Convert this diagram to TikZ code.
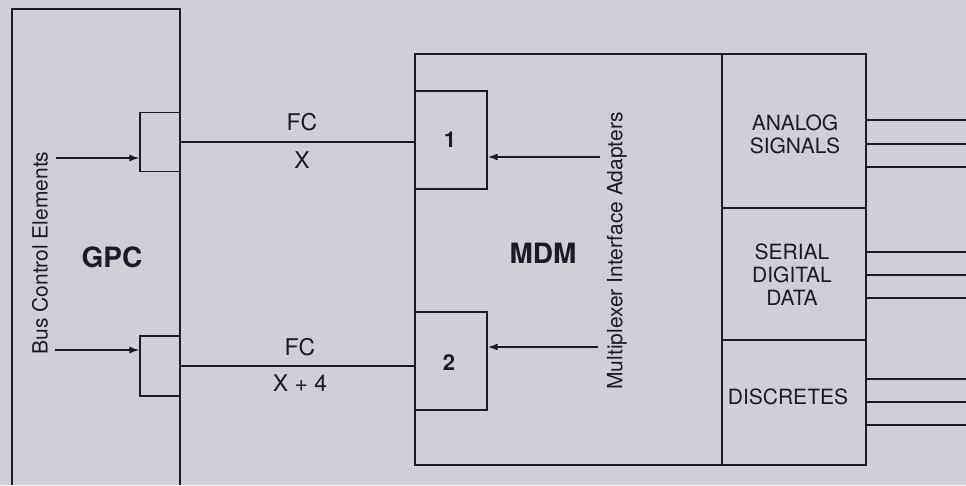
\documentclass[tikz,border=0pt]{standalone}
\usepackage{fontspec}
\setmainfont{TeX Gyre Heros}
\usetikzlibrary{arrows.meta}
\definecolor{paper}{RGB}{208,207,215}
\definecolor{ink}{RGB}{28,26,38}
\begin{document}
\begin{tikzpicture}[x=1pt,y=-1pt,line width=1.4pt,
  box/.style={draw=ink,line width=1.4pt,rectangle,inner sep=0pt},
  txt/.style={text=ink,inner sep=0pt,font=\fontsize{21}{25}\selectfont},
  fclbl/.style={text=ink,inner sep=0pt,font=\fontsize{23}{26}\selectfont},
  big/.style={text=ink,inner sep=0pt,font=\bfseries\fontsize{28}{32}\selectfont},
  num/.style={text=ink,inner sep=0pt,font=\bfseries\fontsize{22}{26}\selectfont},
  arr/.style={draw=ink,line width=1.4pt,-{Latex[length=10pt,width=7pt]}},
  wire/.style={draw=ink,line width=1.4pt}]
\fill[paper] (0,0) rectangle (966,485);
\useasboundingbox (0,0) rectangle (966,485);
% GPC (open at bottom)
\draw[wire] (12,485) -- (12,9) -- (180,9) -- (180,485);
\node[big] (gpc) at (112,257) {GPC};
\node[txt,rotate=90] (bce) at (40,253) {Bus Control Elements};
\node[box,minimum width=40pt,minimum height=59pt] (g1) at (160,142) {};
\node[box,minimum width=40pt,minimum height=60pt] (g2) at (160,366) {};
\coordinate (a1) at (56,158);
\coordinate (a2) at (55,350);
\draw[arr] (a1) -- (a1 -| g1.west);
\draw[arr] (a2) -- (a2 -| g2.west);
% MDM
\node[box,minimum width=307pt,minimum height=411pt] (mdm) at (568.5,259.5) {};
\node[big] (mdml) at (543,253) {MDM};
\node[txt,rotate=90] (mia) at (617,251) {Multiplexer Interface Adapters};
\node[box,minimum width=72pt,minimum height=98pt] (m1) at (451,140) {};
\node[box,minimum width=72pt,minimum height=98pt] (m2) at (451,361) {};
\node[num] (n1) at (450,140) {1};
\node[num] (n2) at (449,363) {2};
\coordinate (b1) at (600,157);
\coordinate (b2) at (598,347);
\draw[arr] (b1) -- (b1 -| m1.east);
\draw[arr] (b2) -- (b2 -| m2.east);
% FC links
\draw[wire] (g1.east) -- (g1.east -| m1.west);
\draw[wire] (g2.east) -- (g2.east -| m2.west);
\node[fclbl] (fc1) at (302,122) {FC};
\node[fclbl] (x1) at (302,160) {X};
\node[fclbl] (fc2) at (300,347) {FC};
\node[fclbl] (x2) at (300,383) {X + 4};
% signal column
\node[box,minimum width=144pt,minimum height=154pt] (an) at (794,131) {};
\node[box,minimum width=144pt,minimum height=132pt] (sd) at (794,274) {};
\node[box,minimum width=144pt,minimum height=125pt] (di) at (794,402.5) {};
\node[txt,align=center] (anl) at (795,134) {ANALOG\\[-2pt]SIGNALS};
\node[txt,align=center] (sdl) at (792,275) {SERIAL\\[-2pt]DIGITAL\\[-2pt]DATA};
\node[txt] (dil) at (788,397) {DISCRETES};
% outputs
\foreach \y/\b [count=\i] in {120/an,144/an,167/an,252/sd,275/sd,298/sd,379/di,402/di,425/di}{
  \coordinate (o\i) at (966,\y);
  \draw[wire] (o\i -| \b.east) -- (o\i);
}
\end{tikzpicture}
\end{document}
